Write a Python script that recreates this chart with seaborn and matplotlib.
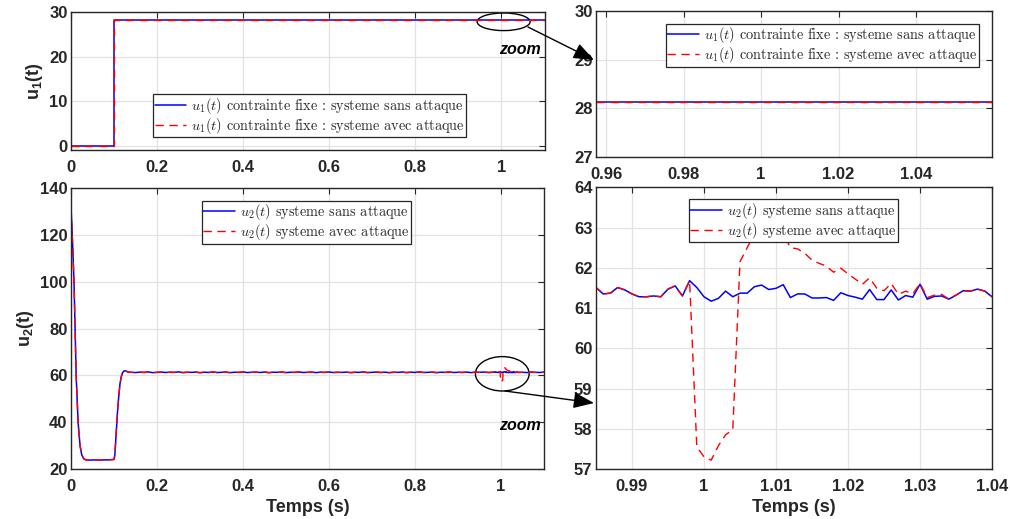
import numpy as np
import pandas as pd
import matplotlib
matplotlib.use("Agg")
import matplotlib.pyplot as plt
import seaborn as sns
from matplotlib.patches import Ellipse, FancyArrowPatch
from matplotlib.ticker import FuncFormatter
from matplotlib.font_manager import FontProperties

# ---------------- data ----------------
# u1: fixed constraint step (both systems identical)
t_u1 = [0.0, 0.1, 0.1, 1.1]
u1_sans = [0.0, 0.0, 28.14, 28.14]
u1_avec = [0.0, 0.0, 28.14, 28.14]

# u2 transient (start-up and step at 0.1 s)
t_transient = [0, 0.004, 0.007, 0.0095, 0.012, 0.0165, 0.021, 0.025, 0.03, 0.035,
               0.045, 0.055, 0.065, 0.075, 0.085, 0.095, 0.1, 0.102, 0.105, 0.108,
               0.111, 0.114, 0.117, 0.12, 0.124, 0.128, 0.132, 0.136]
u2_transient = [132, 115, 100, 80, 60, 40, 30, 26, 24.3, 23.9,
                23.8, 23.9, 23.8, 23.9, 23.9, 24.0, 24.1, 26, 35, 44,
                51, 56.5, 59.5, 61.2, 62.0, 61.9, 61.5, 61.35]

# u2 steady state, 0.14 .. 0.98 s every 0.01 s
u2_steady = [61.35, 61.22, 61.41, 61.28, 61.50, 61.19, 61.33, 61.45, 61.25, 61.38,
             61.29, 61.52, 61.21, 61.36, 61.30, 61.44, 61.18, 61.39, 61.27, 61.48,
             61.24, 61.35, 61.42, 61.20, 61.37, 61.31, 61.49, 61.23, 61.34, 61.40,
             61.26, 61.46, 61.19, 61.38, 61.32, 61.43, 61.22, 61.36, 61.29, 61.51,
             61.25, 61.33, 61.41, 61.21, 61.39, 61.30, 61.47, 61.24, 61.35, 61.28,
             61.44, 61.20, 61.37, 61.32, 61.48, 61.23, 61.34, 61.42, 61.26, 61.40,
             61.19, 61.36, 61.31, 61.45, 61.22, 61.38, 61.29, 61.50, 61.25, 61.33,
             61.41, 61.21, 61.37, 61.30, 61.46, 61.24, 61.35, 61.28, 61.43, 61.20,
             61.39, 61.32, 61.47, 61.26, 61.34]

# u2 around the attack, 0.985 .. 1.040 s every 0.001 s (system without attack)
u2_window_sans = [61.51, 61.35, 61.37, 61.51, 61.45, 61.35, 61.28, 61.28, 61.30, 61.28,
                  61.47, 61.55, 61.30, 61.68, 61.51, 61.28, 61.17, 61.24, 61.42, 61.28,
                  61.37, 61.37, 61.53, 61.57, 61.46, 61.49, 61.58, 61.26, 61.35, 61.35,
                  61.25, 61.25, 61.26, 61.19, 61.38, 61.31, 61.27, 61.22, 61.46, 61.21,
                  61.21, 61.45, 61.20, 61.31, 61.27, 61.59, 61.22, 61.29, 61.30, 61.22,
                  61.32, 61.43, 61.42, 61.47, 61.42, 61.28]

# u2 with attack, 0.999 .. 1.034 s every 0.001 s (elsewhere equal to the one without attack)
u2_attack = [57.55, 57.30, 57.22, 57.58, 57.85, 57.98, 62.15, 62.50, 62.85, 63.15,
             63.30, 63.10, 62.85, 62.50, 62.47, 62.36, 62.19, 62.11, 62.04, 61.89,
             61.99, 61.85, 61.72, 61.59, 61.75, 61.49, 61.43, 61.61, 61.34, 61.42,
             61.35, 61.61, 61.26, 61.32, 61.34, 61.22]

# u2 tail, 1.05 .. 1.10 s
u2_tail = [61.35, 61.22, 61.42, 61.30, 61.27, 61.38]

# time grids
t_steady = np.round(np.arange(0.14, 0.9801, 0.01), 3)
t_window = np.round(np.arange(0.985, 1.04001, 0.001), 3)
t_tail = np.round(np.arange(1.05, 1.1001, 0.01), 3)

t_u2 = np.concatenate([t_transient, t_steady, t_window, t_tail])
u2_sans = np.concatenate([u2_transient, u2_steady, u2_window_sans, u2_tail])
u2_avec = u2_sans.copy()
i0 = int(np.where(np.isclose(t_u2, 0.999))[0][0])
u2_avec[i0:i0 + len(u2_attack)] = u2_attack

df_u1 = pd.DataFrame({"t": t_u1, "sans": u1_sans, "avec": u1_avec})
df_u2 = pd.DataFrame({"t": t_u2, "sans": u2_sans, "avec": u2_avec})

lab_u1 = [r"$u_1(t)$ contrainte fixe : systeme sans attaque",
          r"$u_1(t)$ contrainte fixe : systeme avec attaque"]
lab_u2 = [r"$u_2(t)$ systeme sans attaque",
          r"$u_2(t)$ systeme avec attaque"]

# ---------------- style ----------------
sns.set_theme(style="white")
plt.rcParams.update({
    "font.family": ["Liberation Sans", "DejaVu Sans"],
    "mathtext.fontset": "cm",
    "mathtext.bf": "Liberation Sans:bold",
    "mathtext.rm": "Liberation Sans:bold",
    "axes.edgecolor": "#262626",
    "axes.linewidth": 1.0,
    "xtick.direction": "in",
    "ytick.direction": "in",
    "xtick.top": True,
    "ytick.right": True,
})

W, H = 1010, 519
fig = plt.figure(figsize=(W / 100, H / 100), dpi=100)


def frac(l, t, r, b):
    return [l / W, 1 - b / H, (r - l) / W, (b - t) / H]


ax_tl = fig.add_axes(frac(71, 12, 544.5, 150))
ax_tr = fig.add_axes(frac(596, 11, 992, 157))
ax_bl = fig.add_axes(frac(71, 188.3, 544, 469))
ax_br = fig.add_axes(frac(596, 187.3, 992, 469))

BLUE = "#0000ff"
RED = "#ff0000"
fmt = FuncFormatter(lambda v, p: "%g" % round(v, 4))
leg_font = FontProperties(family="cmr10", size=10.3)


def draw(ax, df, labels):
    sns.lineplot(data=df, x="t", y="sans", ax=ax, color=BLUE, lw=1.1,
                 estimator=None, sort=False, label=labels[0], legend=False)
    sns.lineplot(data=df, x="t", y="avec", ax=ax, color=RED, lw=1.0,
                 estimator=None, sort=False, label=labels[1], legend=False)
    lines = ax.get_lines()
    lines[-1].set_dashes((6, 4))
    return lines[-2:]


def style(ax, xlim, ylim, xt, yt):
    ax.set_xlim(*xlim)
    ax.set_ylim(*ylim)
    ax.set_xticks(xt)
    ax.set_yticks(yt)
    ax.xaxis.set_major_formatter(fmt)
    ax.yaxis.set_major_formatter(fmt)
    ax.grid(True, color="#e2e2e2", lw=0.9)
    ax.set_axisbelow(True)
    ax.tick_params(axis="both", which="both", length=4, width=0.8,
                   color="#262626", labelsize=12, labelcolor="#262626")
    ax.tick_params(axis="x", pad=7.5)
    ax.tick_params(axis="y", pad=2.5)
    for lab in ax.get_xticklabels() + ax.get_yticklabels():
        lab.set_fontweight("bold")
    ax.set_xlabel("")
    ax.set_ylabel("")
    for s in ax.spines.values():
        s.set_color("#262626")
        s.set_linewidth(1.0)


def legend(ax, handles, labels, loc, anchor):
    lg = ax.legend(handles, labels, loc=loc, bbox_to_anchor=anchor, prop=leg_font,
                   frameon=True, fancybox=False, framealpha=1, edgecolor="#262626",
                   handlelength=2.2, handletextpad=0.35, borderpad=0.1,
                   labelspacing=0.0, borderaxespad=0)
    lg.get_frame().set_linewidth(0.9)


# top-left: u1 full
h = draw(ax_tl, df_u1, lab_u1)
style(ax_tl, (0, 1.1), (-1, 30), [0, 0.2, 0.4, 0.6, 0.8, 1.0], [0, 10, 20, 30])
legend(ax_tl, h, lab_u1, "lower right", (0.835, 0.094))
ax_tl.set_ylabel(r"$\mathbf{u_1(t)}$", fontsize=13, math_fontfamily="custom",
                 color="#262626", labelpad=3)

# top-right: u1 zoom
h = draw(ax_tr, df_u1, lab_u1)
style(ax_tr, (0.9574, 1.0596), (27, 30), [0.96, 0.98, 1.0, 1.02, 1.04], [27, 28, 29, 30])
legend(ax_tr, h, lab_u1, "upper right", (0.967, 0.911))

# bottom-left: u2 full
h = draw(ax_bl, df_u2, lab_u2)
style(ax_bl, (0, 1.1), (20, 140), [0, 0.2, 0.4, 0.6, 0.8, 1.0], [20, 40, 60, 80, 100, 120, 140])
legend(ax_bl, h, lab_u2, "upper left", (0.277, 0.955))
ax_bl.set_ylabel(r"$\mathbf{u_2(t)}$", fontsize=13, math_fontfamily="custom",
                 color="#262626", labelpad=3)
ax_bl.set_xlabel("Temps (s)", fontsize=13, fontweight="bold", color="#262626", labelpad=3)

# bottom-right: u2 zoom
h = draw(ax_br, df_u2, lab_u2)
style(ax_br, (0.985, 1.04), (57, 64), [0.99, 1.0, 1.01, 1.02, 1.03, 1.04],
      [57, 58, 59, 60, 61, 62, 63, 64])
legend(ax_br, h, lab_u2, "upper left", (0.235, 0.958))
ax_br.set_xlabel("Temps (s)", fontsize=13, fontweight="bold", color="#262626", labelpad=3)

# zoom annotations
ax_tl.add_patch(Ellipse((1.005, 27.8), 0.123, 3.95, fill=False, ec="black", lw=1.0, clip_on=False))
ax_bl.add_patch(Ellipse((1.003, 60.7), 0.125, 14.7, fill=False, ec="black", lw=1.0, clip_on=False))
ax_tl.text(1.092, 21.6, "zoom", ha="right", va="center", fontsize=11.5,
           fontweight="bold", fontstyle="italic", color="black")
ax_bl.text(1.093, 38.8, "zoom", ha="right", va="center", fontsize=11.5,
           fontweight="bold", fontstyle="italic", color="black")


def fpt(x, y):
    return (x / W, 1 - y / H)


for a, b in [((528, 27), (594, 60)), ((505, 391), (594, 403))]:
    fig.add_artist(FancyArrowPatch(fpt(*a), fpt(*b), transform=fig.transFigure,
                                   arrowstyle="-|>,head_length=0.9,head_width=0.35",
                                   mutation_scale=14, color="black", lw=1.0,
                                   shrinkA=0, shrinkB=0))

fig.savefig("out.png", dpi=100)
